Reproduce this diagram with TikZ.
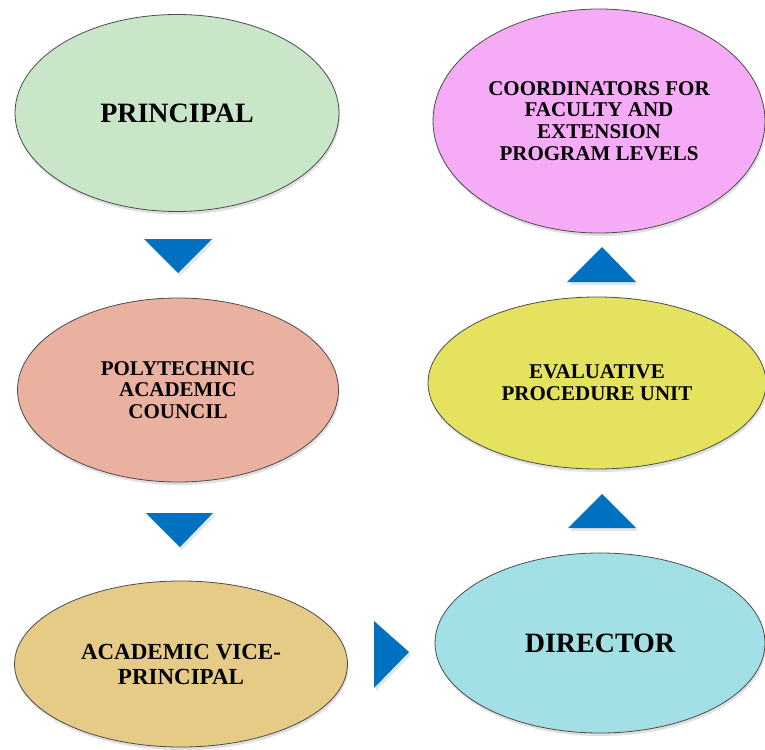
\documentclass[tikz,border=0pt]{standalone}
\usepackage{fontspec}
\setmainfont{Liberation Serif}
\usetikzlibrary{shapes, shadows, positioning}
\definecolor{PrincipalGreen}{RGB}{201, 230, 201}
\definecolor{CouncilSalmon}{RGB}{234, 177, 161}
\definecolor{ViceTan}{RGB}{230, 203, 134}
\definecolor{DirectorCyan}{RGB}{162, 224, 230}
\definecolor{UnitYellow}{RGB}{228, 226, 94}
\definecolor{CoordPink}{RGB}{245, 171, 245}
\definecolor{ArrowBlue}{RGB}{0, 112, 192}

\begin{document}
\begin{tikzpicture}[x=1pt, y=-1pt,
    bubble/.style={ellipse, draw=black!70, line width=0.8pt, inner sep=0pt, align=center,
        drop shadow={shadow xshift=1pt, shadow yshift=-3pt, opacity=0.25}},
    bigtext/.style={font=\fontsize{28}{31}\selectfont\bfseries},
    smalltext/.style={font=\fontsize{21}{21.8}\selectfont\bfseries},
    tri/.style={fill=ArrowBlue, drop shadow={shadow xshift=2pt, shadow yshift=-3pt, opacity=0.2}}]
    \useasboundingbox (0,0) rectangle (765,749);

    % Left column
    \node[bubble, bigtext, fill=PrincipalGreen, minimum width=324pt, minimum height=197pt] (principal) at (177,113) {PRINCIPAL};
    \node[bubble, smalltext, fill=CouncilSalmon, minimum width=321pt, minimum height=184pt] (council) at (178,390) {POLYTECHNIC\\ACADEMIC\\COUNCIL};
    \node[bubble, fill=ViceTan, minimum width=333pt, minimum height=166pt, font=\fontsize{23}{25}\selectfont\bfseries] (vice) at (181,664) {ACADEMIC VICE-\\PRINCIPAL};

    % Right column
    \node[bubble, bigtext, fill=DirectorCyan, minimum width=330pt, minimum height=180pt] (director) at (600,643) {DIRECTOR};
    \node[bubble, smalltext, fill=UnitYellow, minimum width=338pt, minimum height=172pt] (unit) at (597,383) {EVALUATIVE\\PROCEDURE UNIT};
    \node[bubble, smalltext, fill=CoordPink, minimum width=332pt, minimum height=224pt] (coord) at (599,121) {COORDINATORS FOR\\FACULTY AND\\EXTENSION\\PROGRAM LEVELS};

    % Arrows down the left column
    \fill[tri] (144,239) -- (212,239) -- (178,273) -- cycle;
    \fill[tri] (146,513) -- (213,513) -- (180,547) -- cycle;

    % Across the bottom
    \fill[tri] (374,621) -- (409,652) -- (374,688) -- cycle;

    % Arrows up the right column
    \fill[tri] (568,528) -- (636,528) -- (602,494) -- cycle;
    \fill[tri] (567,282) -- (636,282) -- (602,247) -- cycle;
\end{tikzpicture}
\end{document}
